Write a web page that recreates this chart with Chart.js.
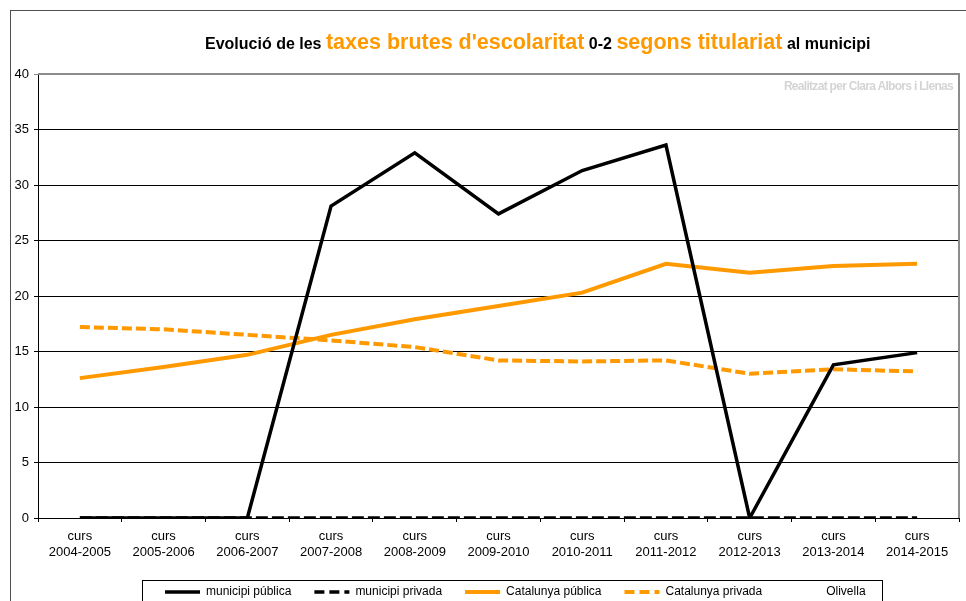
<!DOCTYPE html>
<html>
<head>
<meta charset="utf-8">
<script src="https://cdn.jsdelivr.net/npm/chart.js@4"></script>
<style>
  html, body { margin: 0; padding: 0; background: #fff; overflow: hidden; }
  #wrap { position: relative; width: 966px; height: 601px; overflow: hidden; }
  #frame { position: absolute; left: 10px; top: 10px; width: 1000px; height: 700px;
           border-left: 1px solid #505050; border-top: 1px solid #505050; }
  #chart { position: absolute; left: 0; top: 0; }
  #title { position: absolute; left: 205px; top: 28px; white-space: nowrap;
           font-family: "Liberation Sans", Arial, sans-serif; font-weight: bold;
           font-size: 16px; line-height: 28px; color: #000; }
  #title .big { font-size: 21.5px; color: #ff9900; }
  #credit { position: absolute; right: 13px; top: 79px; white-space: nowrap;
            font-family: "Liberation Sans", Arial, sans-serif; letter-spacing: -0.7px;
            font-weight: bold; font-size: 12px; color: #d4d4d4; }
</style>
</head>
<body>
<div id="wrap">
  <div id="frame"></div>
  <canvas id="chart" width="966" height="612"></canvas>
  <div id="title">Evolució de les <span class="big">taxes brutes d'escolaritat</span> 0-2 <span class="big">segons titulariat</span> al municipi</div>
  <div id="credit">Realitzat per Clara Albors i Llenas</div>
</div>
<script>
// Chart data
const cursos = ['2004-2005', '2005-2006', '2006-2007', '2007-2008', '2008-2009', '2009-2010',
  '2010-2011', '2011-2012', '2012-2013', '2013-2014', '2014-2015'];
const municipiPublica = [0, 0, 0, 28.1, 32.9, 27.4, 31.3, 33.6, 0, 13.8, 14.9];
const municipiPrivada = [0, 0, 0, 0, 0, 0, 0, 0, 0, 0, 0];
const catalunyaPublica = [12.6, 13.6, 14.7, 16.5, 17.9, 19.1, 20.3, 22.9, 22.1, 22.7, 22.9];
const catalunyaPrivada = [17.2, 17.0, 16.5, 16.0, 15.4, 14.2, 14.1, 14.2, 13.0, 13.4, 13.2];
const olivella = [null, null, null, null, null, null, null, null, null, null, null];
const yTicks = [0, 5, 10, 15, 20, 25, 30, 35, 40];

const orange = '#ff9900';
const fontFamily = '"Liberation Sans", Arial, sans-serif';

// Border round the plot and the legend box
const framePlugin = {
  id: 'framePlugin',
  afterLayout(chart) {
    // put the legend where the original one sits
    const lg = chart.legend;
    lg.left = 142;
    lg.right = 966;
    lg.top = 563;
    lg.bottom = 612;
  },
  afterDraw(chart) {
    const ctx = chart.ctx;
    const a = chart.chartArea;
    ctx.save();
    ctx.strokeStyle = '#8c8c8c';
    ctx.lineWidth = 2;
    ctx.beginPath();
    ctx.moveTo(a.left, a.top);
    ctx.lineTo(a.right, a.top);
    ctx.lineTo(a.right, a.bottom);
    ctx.stroke();
    ctx.strokeStyle = '#000';
    ctx.lineWidth = 1;
    ctx.strokeRect(142.5, 580.5, 740, 40);
    ctx.restore();
  }
};

new Chart(document.getElementById('chart'), {
  type: 'line',
  data: {
    labels: cursos.map((c) => ['curs', c]),
    datasets: [
      { label: 'municipi pública', data: municipiPublica, borderColor: '#000', borderWidth: 3.5 },
      { label: 'municipi privada', data: municipiPrivada, borderColor: '#000', borderWidth: 3.5, borderDash: [12, 4] },
      { label: 'Catalunya pública', data: catalunyaPublica, borderColor: orange, borderWidth: 4 },
      { label: 'Catalunya privada', data: catalunyaPrivada, borderColor: orange, borderWidth: 4, borderDash: [10, 4] },
      { label: 'Olivella', data: olivella, borderColor: '#fff', borderWidth: 3 }
    ]
  },
  options: {
    responsive: false,
    animation: false,
    elements: {
      line: { tension: 0, fill: false, backgroundColor: 'transparent' },
      point: { radius: 0, hoverRadius: 0 }
    },
    layout: { padding: { top: 74, right: 7, left: 0, bottom: 0 } },
    plugins: {
      title: { display: false },
      tooltip: { enabled: false },
      legend: {
        position: 'bottom',
        align: 'start',
        maxHeight: 32,
        labels: {
          usePointStyle: true,
          pointStyle: 'line',
          pointStyleWidth: 35,
          padding: 23,
          color: '#000',
          font: { family: fontFamily, size: 12 },
          // legend samples take the dash and width of each line
          generateLabels: (chart) => chart.data.datasets.map((ds, i) => ({
            text: ds.label,
            datasetIndex: i,
            fillStyle: ds.borderColor,
            strokeStyle: ds.borderColor,
            lineWidth: ds.borderWidth,
            lineDash: ds.borderDash ? [10, 5] : [],
            pointStyle: 'line',
            hidden: false,
            fontColor: '#000'
          }))
        }
      }
    },
    scales: {
      x: {
        offset: true,
        afterFit: (scale) => { scale.height = 62; },
        border: { color: '#000', width: 1 },
        grid: { offset: true, drawOnChartArea: false, color: '#000', tickLength: 4 },
        ticks: { color: '#000', font: { family: fontFamily, size: 13, lineHeight: 1.23 }, padding: 6, maxRotation: 0, autoSkip: false }
      },
      y: {
        min: 0,
        max: 40,
        afterFit: (scale) => { scale.width = 38; },
        afterBuildTicks: (scale) => { scale.ticks = yTicks.map((v) => ({ value: v })); },
        border: { color: '#000', width: 1 },
        grid: {
          color: (c) => (c.tick && c.tick.value === 40 ? '#8c8c8c' : '#000'),
          tickLength: 4
        },
        ticks: { color: '#000', font: { family: fontFamily, size: 13 }, padding: 5 }
      }
    }
  },
  plugins: [framePlugin]
});
</script>
</body>
</html>
